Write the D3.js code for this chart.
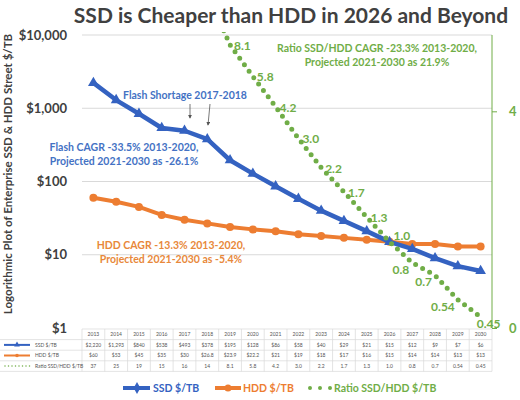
<!DOCTYPE html>
<html><head><meta charset="utf-8">
<script src="https://cdn.jsdelivr.net/npm/d3@7"></script>
<style>
body{margin:0;background:#fff;}
svg{display:block;font-family:Lato, "Open Sans", sans-serif;}
</style></head>
<body><svg id="c" width="520" height="400"></svg>
<script>
const years = [2013,2014,2015,2016,2017,2018,2019,2020,2021,2022,2023,2024,2025,2026,2027,2028,2029,2030];
const ssd = [2220,1293,840,538,493,378,195,128,86,58,40,29,21,15,12,9,7,6];
const hdd = [60,53,45,35,30,26.8,23.9,22.2,21,19,18,17,16,15,14,14,13,13];
const ratio = [37,25,19,15,16,14,8.1,5.8,4.2,3.0,2.2,1.7,1.3,1.0,0.8,0.7,0.54,0.45];
const ssdLabels = ["$2,220","$1,293","$840","$538","$493","$378","$195","$128","$86","$58","$40","$29","$21","$15","$12","$9","$7","$6"];
const hddLabels = ["$60","$53","$45","$35","$30","$26.8","$23.9","$22.2","$21","$19","$18","$17","$16","$15","$14","$14","$13","$13"];
const ratioLabels = ["37","25","19","15","16","14","8.1","5.8","4.2","3.0","2.2","1.7","1.3","1.0","0.8","0.7","0.54","0.45"];
const leftTicks = [1,10,100,1000,10000];
const rightTicks = [0.4,4];
const seriesNames = ["SSD $/TB","HDD $/TB","Ratio SSD/HDD $/TB"];

const BLUE="#3462C1", ORANGE="#ED7D31", GREEN="#70AD47", GREY="#404040";
const svg = d3.select("#c");
const L=82, R=492, T=35, B=328;

const x = d3.scaleBand().domain(years).range([L,R]);
const cx = d => x(d)+x.bandwidth()/2;
const yL = d3.scaleLog().domain([1,10000]).range([B,T]);
const yR = d3.scaleLog().domain([0.4,9]).range([B,T]);

// title
svg.append("text").attr("x",291).attr("y",23).attr("text-anchor","middle")
  .attr("font-size",21).attr("font-weight","bold").attr("fill",GREY)
  .text("SSD is Cheaper than HDD in 2026 and Beyond");

// gridlines
svg.append("g").selectAll("line").data(leftTicks.slice(1)).join("line")
  .attr("x1",L).attr("x2",R).attr("y1",d=>yL(d)).attr("y2",d=>yL(d))
  .attr("stroke","#d9d9d9").attr("stroke-width",1);

// left axis
const gl = svg.append("g").attr("transform",`translate(${L-12},0)`)
  .call(d3.axisLeft(yL).tickValues(leftTicks).tickSize(0).tickFormat(d=>"$"+d3.format(",")(d)));
gl.select(".domain").remove();
gl.selectAll("text").attr("font-size",13).attr("font-weight","bold").attr("fill",GREY).attr("font-family","Lato, sans-serif");

// right axis
const gr = svg.append("g").attr("transform",`translate(${R},0)`)
  .call(d3.axisRight(yR).tickValues(rightTicks).tickSize(5).tickPadding(12).tickFormat(d3.format(".0f")));
gr.select(".domain").attr("stroke",GREEN).attr("d",`M0,${T}V${B}`);
gr.selectAll("line").attr("stroke",GREEN);
gr.selectAll("text").attr("font-size",13).attr("font-weight","bold").attr("fill",GREEN).attr("font-family","Lato, sans-serif");

// y title
svg.append("text").attr("transform","translate(12,174) rotate(-90)").attr("text-anchor","middle")
  .attr("font-size",11.5).attr("font-weight","bold").attr("fill",GREY)
  .text("Logorithmic Plot of Enterprise SSD & HDD Street $/TB");

// clip
svg.append("clipPath").attr("id","pc").append("rect").attr("x",L).attr("y",T-3).attr("width",R-L).attr("height",B-T+6);

// HDD line
const lineL = d3.line().x((d,i)=>cx(years[i])).y(d=>yL(d));
svg.append("path").datum(hdd).attr("d",lineL).attr("fill","none").attr("stroke",ORANGE).attr("stroke-width",4).attr("stroke-linejoin","round");
svg.append("g").selectAll("circle").data(hdd).join("circle")
  .attr("cx",(d,i)=>cx(years[i])).attr("cy",d=>yL(d)).attr("r",4).attr("fill",ORANGE);

// SSD line
svg.append("path").datum(ssd).attr("d",lineL).attr("fill","none").attr("stroke",BLUE).attr("stroke-width",4.5).attr("stroke-linejoin","round");
const tri = d3.symbol().type(d3.symbolTriangle).size(50);
svg.append("g").selectAll("path").data(ssd).join("path")
  .attr("transform",(d,i)=>`translate(${cx(years[i])},${yL(d)})`).attr("d",tri).attr("fill",BLUE);

// ratio dotted line
const lineR = d3.line().x((d,i)=>cx(years[i])).y(d=>yR(d));
svg.append("path").datum(ratio).attr("d",lineR).attr("clip-path","url(#pc)").attr("fill","none")
  .attr("stroke",GREEN).attr("stroke-width",5).attr("stroke-linecap","round").attr("stroke-dasharray","0,8");

// ratio labels
svg.append("g").selectAll("text").data(ratio.map((v,i)=>({v,i}))).join("text")
  .filter(d=>d.v<9)
  .attr("x",d=> d.v>=1 ? cx(years[d.i])+4 : (d.i===17 ? cx(years[d.i])+8 : cx(years[d.i])-3))
  .attr("y",d=> d.v>=1 ? yR(d.v)+(d.v===1?-2:5) : yR(d.v)+11)
  .attr("text-anchor",d=> d.v>=1 ? "start" : (d.i===17?"middle":"end"))
  .attr("font-size",12).attr("font-weight","bold").attr("fill",GREEN)
  .text(d=>ratioLabels[d.i]);

// annotations
function multi(lines, xx, y0, dy, col, anchor){
  const t = svg.append("text").attr("font-size",10.5).attr("font-weight","bold").attr("fill",col).attr("text-anchor",anchor);
  lines.forEach((s,k)=>t.append("tspan").attr("x",xx).attr("y",y0+k*dy).text(s));
}
multi(["Flash Shortage 2017-2018"],185,99,0,"#4472C4","middle");
multi(["Flash CAGR -33.5% 2013-2020,","Projected 2021-2030 as -26.1%"],124,151,14,"#4472C4","middle");
multi(["HDD CAGR -13.3% 2013-2020,","Projected 2021-2030 as -5.4%"],171,249,13.5,"#E8883A","middle");
multi(["Ratio SSD/HDD CAGR -23.3% 2013-2020,","Projected 2021-2030 as 21.9%"],377,52,14,GREEN,"middle");

// arrows
const defs = svg.append("defs");
defs.append("marker").attr("id","ah").attr("viewBox","0 0 10 10").attr("refX",8).attr("refY",5)
  .attr("markerWidth",5).attr("markerHeight",5).attr("orient","auto")
  .append("path").attr("d","M0,0L10,5L0,10z").attr("fill","#555");
[[190,104,190,118],[210,104,208,125]].forEach(a=>{
  svg.append("line").attr("x1",a[0]).attr("y1",a[1]).attr("x2",a[2]).attr("y2",a[3])
    .attr("stroke","#555").attr("stroke-width",0.8).attr("marker-end","url(#ah)");
});

// data table
const tT=329, rh=10.6;
const tg = svg.append("g").attr("font-size",5).attr("fill","#555");
for(let r=0;r<=4;r++){
  tg.append("line").attr("x1", r===0?L:0).attr("x2",R).attr("y1",tT+r*rh).attr("y2",tT+r*rh)
    .attr("stroke","#d9d9d9").attr("stroke-width",0.7);
}
years.concat([null]).forEach((yr,i)=>{
  const xx = yr===null ? R : x(yr);
  tg.append("line").attr("x1",xx).attr("x2",xx).attr("y1",tT).attr("y2",tT+4*rh).attr("stroke","#d9d9d9").attr("stroke-width",0.7);
});
const rows=[years.map(String),ssdLabels,hddLabels,ratioLabels];
rows.forEach((row,r)=>{
  tg.append("g").selectAll("text").data(row).join("text")
    .attr("x",(d,i)=>cx(years[i])).attr("y",tT+r*rh+rh/2+1.8).attr("text-anchor","middle").text(d=>d);
});
// table legend column
const lc=[BLUE,ORANGE,GREEN];
seriesNames.forEach((s,k)=>{
  const yy = tT+(k+1)*rh+rh/2;
  if(k<2){
    tg.append("line").attr("x1",4).attr("x2",30).attr("y1",yy).attr("y2",yy).attr("stroke",lc[k]).attr("stroke-width",2);
    if(k===0) tg.append("path").attr("transform",`translate(17,${yy})`).attr("d",d3.symbol().type(d3.symbolTriangle).size(14)).attr("fill",BLUE);
    else tg.append("circle").attr("cx",17).attr("cy",yy).attr("r",1.8).attr("fill",ORANGE);
  } else {
    tg.append("line").attr("x1",5).attr("x2",30).attr("y1",yy).attr("y2",yy).attr("stroke",GREEN).attr("stroke-width",1.5).attr("stroke-linecap","round").attr("stroke-dasharray","0,3.5");
  }
  tg.append("text").attr("x",35).attr("y",yy+1.8).text(s);
});

// bottom legend
const lg = svg.append("g").attr("font-size",10.5).attr("font-weight","bold");
lg.append("line").attr("x1",123).attr("x2",150).attr("y1",388).attr("y2",388).attr("stroke",BLUE).attr("stroke-width",4);
lg.append("path").attr("transform","translate(137,388)").attr("d",d3.symbol().type(d3.symbolDiamond).size(40)).attr("fill",BLUE);
lg.append("text").attr("x",153).attr("y",392).attr("fill",BLUE).text(seriesNames[0]);
lg.append("line").attr("x1",215).attr("x2",241).attr("y1",388).attr("y2",388).attr("stroke",ORANGE).attr("stroke-width",4);
lg.append("circle").attr("cx",228).attr("cy",388).attr("r",3.5).attr("fill",ORANGE);
lg.append("text").attr("x",243).attr("y",392).attr("fill",ORANGE).text(seriesNames[1]);
lg.append("line").attr("x1",310).attr("x2",331).attr("y1",388).attr("y2",388).attr("stroke",GREEN).attr("stroke-width",4).attr("stroke-linecap","round").attr("stroke-dasharray","0,10");
lg.append("text").attr("x",334).attr("y",392).attr("fill",GREEN).text(seriesNames[2]);
</script></body></html>
